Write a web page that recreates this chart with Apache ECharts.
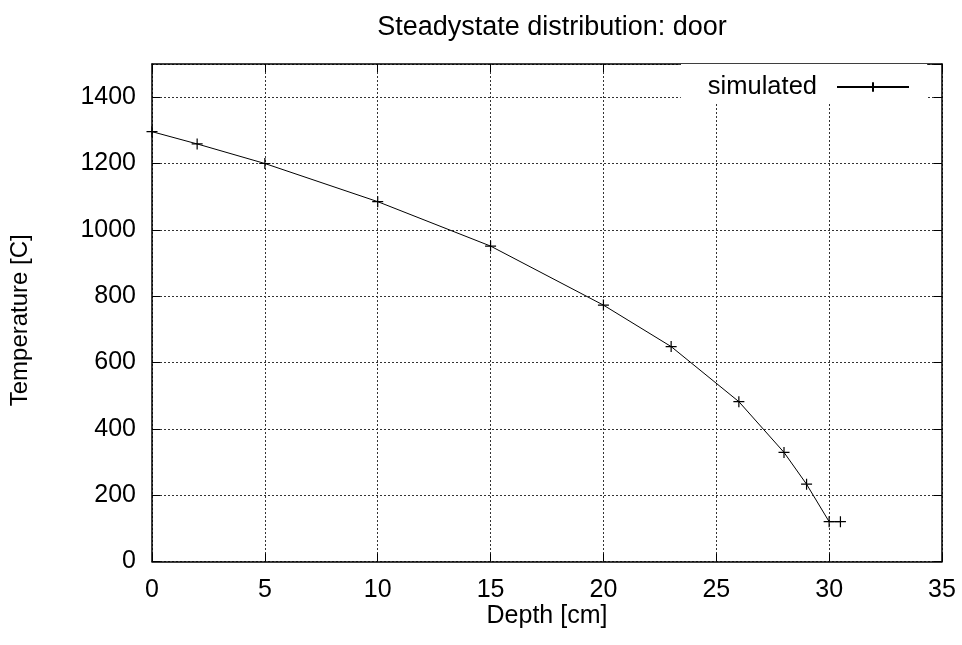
<!DOCTYPE html>
<html>
<head>
<meta charset="utf-8">
<script src="https://cdn.jsdelivr.net/npm/echarts@6/dist/echarts.min.js"></script>
<style>
  html, body { margin: 0; padding: 0; background: #fff; }
  #chart { width: 962px; height: 645px; }
</style>
</head>
<body>
<div id="chart"></div>
<script>
// Steady-state temperature profile through the door lining
const depth = [0, 2, 5, 10, 15, 20, 23, 26, 28, 29, 30, 30.5];
const temperature = [1296, 1259, 1200, 1085, 951, 773, 648, 482, 329, 233, 120, 120];
const seriesName = 'simulated';
const titleText = 'Steadystate distribution: door';
const xName = 'Depth [cm]';
const yName = 'Temperature [C]';

const FONT = "'Liberation Sans', Arial, sans-serif";
const plusSymbol = 'path://M0,5L10,5M5,0L5,10';

const chart = echarts.init(document.getElementById('chart'), null, { renderer: 'canvas' });

const axisLine = { show: true, onZero: false, lineStyle: { color: '#000', width: 1.5 } };
const tickIn = { show: true, inside: true, length: 8, lineStyle: { color: '#000', width: 1 } };
const gridLine = { show: true, lineStyle: { color: '#333', width: 1, type: [2, 2] } };
const plainNumber = v => String(v);

chart.setOption({
  animation: false,
  backgroundColor: '#fff',
  title: {
    text: titleText,
    left: 547,
    top: 9,
    textAlign: 'center',
    textStyle: { fontFamily: FONT, fontSize: 27, fontWeight: 'normal', color: '#000' }
  },
  grid: { left: 151, right: 20, top: 64, bottom: 83.5, containLabel: false },
  legend: {
    data: [seriesName],
    right: 962 - 927,
    top: 64,
    align: 'right',
    itemWidth: 72,
    itemHeight: 12,
    padding: [10, 17, 2, 27],
    backgroundColor: '#fff',
    textStyle: { fontFamily: FONT, fontSize: 25.5, color: '#000', padding: [0, 15, 0, 0] }
  },
  xAxis: [
    {
      type: 'value', min: 0, max: 35, interval: 5, position: 'bottom',
      name: xName, nameLocation: 'middle', nameGap: 42, nameMoveOverlap: false,
      nameTextStyle: { fontFamily: FONT, fontSize: 25, color: '#000' },
      axisLine: axisLine, axisTick: tickIn, splitLine: gridLine,
      axisLabel: { fontFamily: FONT, fontSize: 25, color: '#000', margin: 16, formatter: plainNumber }
    },
    {
      type: 'value', min: 0, max: 35, interval: 5, position: 'top',
      axisLine: axisLine, axisTick: tickIn, splitLine: { show: false },
      axisLabel: { show: false }
    }
  ],
  yAxis: [
    {
      type: 'value', min: 0, max: 1500, interval: 200, position: 'left',
      name: yName, nameLocation: 'middle', nameGap: 120, nameRotate: 90, nameMoveOverlap: false,
      nameTextStyle: { fontFamily: FONT, fontSize: 24, color: '#000', padding: [0, 15, 0, 0] },
      axisLine: axisLine, axisTick: tickIn, splitLine: gridLine,
      axisLabel: { fontFamily: FONT, fontSize: 25, color: '#000', margin: 16, showMaxLabel: false, formatter: plainNumber }
    },
    {
      type: 'value', min: 0, max: 1500, interval: 200, position: 'right',
      axisLine: axisLine, axisTick: tickIn, splitLine: { show: false },
      axisLabel: { show: false }
    }
  ],
  series: [
    {
      name: seriesName,
      type: 'line',
      xAxisIndex: 0,
      yAxisIndex: 0,
      data: depth.map((d, i) => [d, temperature[i]]),
      symbol: plusSymbol,
      symbolSize: 11,
      showAllSymbol: true,
      clip: false,
      lineStyle: { color: '#000', width: 1 },
      itemStyle: { color: '#000', borderColor: '#000', borderWidth: 1.2 }
    }
  ]
});
</script>
</body>
</html>
